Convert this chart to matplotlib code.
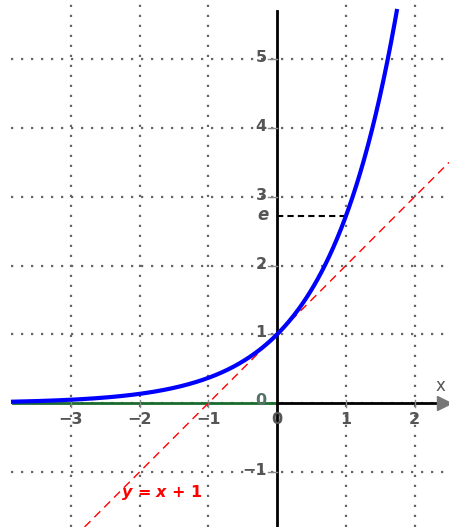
import numpy as np
import matplotlib.pyplot as plt

x_ticks = [-3, -2, -1, 1, 2]
y_ticks = [-1, 1, 2, 3, 4, 5]
x_labels = ['\u22123', '\u22122', '\u22121', '1', '2']
y_labels = ['\u22121', '1', '2', '3', '4', '5']
grid_x = [-3, -2, -1, 1, 2]
grid_y = [-1, 0, 1, 2, 3, 4, 5]

x_min, x_max = -4.03, 2.5
y_min, y_max = -1.80, 5.86
curve_start, y_top = -3.84, 5.70

fig = plt.figure(figsize=(4.49, 5.27), dpi=100)
ax = fig.add_axes([0, 0, 1, 1])
ax.set_xlim(x_min, x_max)
ax.set_ylim(y_min, y_max)
ax.axis('off')

gc = '#666666'
for gx in grid_x:
    ax.plot([gx, gx], [y_min, y_max], color=gc, lw=1.6, ls=(0, (1, 3.5)), zorder=1)
for gy in grid_y:
    ax.plot([curve_start - 0.03, x_max], [gy, gy], color=gc, lw=1.6, ls=(0, (1, 3.5)), zorder=1)

# axes
ax.plot([curve_start, 0], [0, 0], color='#1b6b2f', lw=2, zorder=3)
ax.plot([0, 2.38], [0, 0], color='black', lw=2, zorder=3)
ax.plot([0, 0], [y_min, y_top], color='black', lw=2, zorder=3)
ax.plot([2.43], [0], marker='>', color='#777777', ms=10, zorder=4, clip_on=False)
ax.text(2.38, 0.12, 'x', fontsize=12, color='#555555', ha='center', va='bottom')

# ticks
for t, lab in zip(x_ticks, x_labels):
    ax.plot([t, t], [-0.05, 0.05], color='#888888', lw=1, zorder=3)
    ax.text(t, -0.13, lab, fontsize=11.5, color='#555555', fontweight='bold',
            ha='center', va='top')
for t, lab in zip(y_ticks, y_labels):
    ax.plot([-0.13, 0], [t, t], color='#888888', lw=1, zorder=3)
    ax.text(-0.15, t + 0.02, lab, fontsize=11.5, color='#555555', fontweight='bold',
            ha='right', va='center')
ax.text(-0.15, 0.04, '0', fontsize=11.5, color='#557066', fontweight='bold', ha='right', va='center')
ax.text(0.0, -0.13, '0', fontsize=11.5, color='#555555', fontweight='bold', ha='center', va='top')

# tangent
xt = np.linspace(y_min - 1, x_max, 50)
ax.plot(xt, xt + 1, color='red', lw=1, ls=(0, (6, 4)), zorder=5)
ax.text(-1.68, -1.3, r'$\boldsymbol{y}$ = $\boldsymbol{x}$ + 1', fontsize=11.5, color='red',
        fontweight='bold', ha='center', va='center')

# e marker
ax.plot([0, 1], [np.e, np.e], color='black', lw=1.5, ls=(0, (3, 2)), zorder=4)
ax.text(-0.13, 2.73, 'e', fontsize=12, color='#555555', fontweight='bold', style='italic',
        ha='right', va='center')

# exp curve
xc = np.linspace(curve_start, np.log(y_top), 400)
ax.plot(xc, np.exp(xc), color='blue', lw=3, zorder=6)

fig.savefig('out.png', dpi=100)
